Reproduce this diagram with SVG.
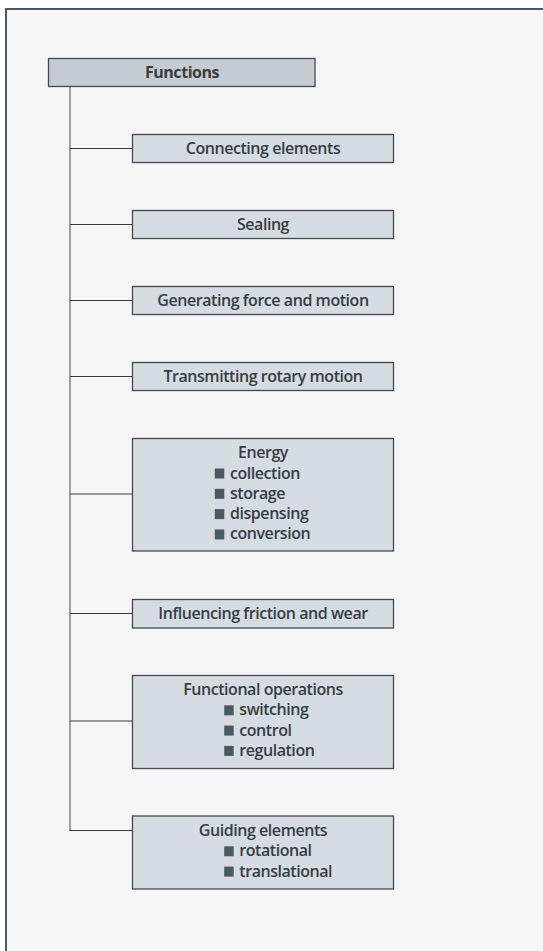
<svg xmlns="http://www.w3.org/2000/svg" width="543" height="951" viewBox="0 0 543 951">
  <style>
    .panel { fill: #f5f5f5; }
    .frame { stroke: #4a5a64; stroke-width: 2; fill: none; }
    .box { fill: #d4dbe1; stroke: #45494d; stroke-width: 1.3; }
    .root { fill: #c4cbd1; stroke: #45494d; stroke-width: 1.3; }
    .trunk { stroke: #8a8a8a; stroke-width: 1.6; fill: none; }
    .branch { stroke: #3a3a3a; stroke-width: 1; fill: none; }
    .label { font-family: "Open Sans", "Noto Sans", sans-serif; font-size: 16px; font-weight: 600; letter-spacing: -0.45px; fill: #363e44; }
    .mid { text-anchor: middle; }
    .bold { font-weight: 700; }
    .bullet { fill: #4a5a64; }
  </style>

  <!-- background panel with left and top rule -->
  <rect class="panel" x="5" y="8" width="538" height="943"/>
  <path class="frame" d="M6 951 V9 H543"/>

  <!-- tree connectors -->
  <g id="connectors">
    <path class="trunk" d="M70 86.5 V830.5"/>
    <path class="branch" d="M70 148.5 H132.5"/>
    <path class="branch" d="M70 224.5 H132.5"/>
    <path class="branch" d="M70 300.5 H132.5"/>
    <path class="branch" d="M70 376.5 H132.5"/>
    <path class="branch" d="M70 494 H132.5"/>
    <path class="branch" d="M70 613.5 H132.5"/>
    <path class="branch" d="M70 721 H132.5"/>
    <path class="branch" d="M69.2 830.5 H132.5"/>
  </g>

  <g id="functions">
    <rect class="root" x="48.5" y="58.5" width="266.5" height="28"/>
    <text class="label bold mid" x="182" y="78">Functions</text>
  </g>

  <g id="connecting-elements">
    <rect class="box" x="132.5" y="134.5" width="261" height="28"/>
    <text class="label mid" x="263" y="154">Connecting elements</text>
  </g>

  <g id="sealing">
    <rect class="box" x="132.5" y="210.5" width="261" height="28"/>
    <text class="label mid" x="263" y="230">Sealing</text>
  </g>

  <g id="generating-force">
    <rect class="box" x="132.5" y="286.5" width="261" height="28"/>
    <text class="label mid" x="263" y="306">Generating force and motion</text>
  </g>

  <g id="transmitting-rotary">
    <rect class="box" x="132.5" y="362.5" width="261" height="28"/>
    <text class="label mid" x="263" y="382">Transmitting rotary motion</text>
  </g>

  <g id="energy">
    <rect class="box" x="132.5" y="438.5" width="261" height="112.5"/>
    <text class="label mid" x="263" y="458">Energy</text>
    <rect class="bullet" x="214.8" y="468.5" width="9.5" height="10"/>
    <text class="label" x="230" y="478.5">collection</text>
    <rect class="bullet" x="214.8" y="488.8" width="9.5" height="10"/>
    <text class="label" x="230" y="498.8">storage</text>
    <rect class="bullet" x="214.8" y="509.1" width="9.5" height="10"/>
    <text class="label" x="230" y="519.1">dispensing</text>
    <rect class="bullet" x="214.8" y="529.4" width="9.5" height="10"/>
    <text class="label" x="230" y="539.4">conversion</text>
  </g>

  <g id="friction-wear">
    <rect class="box" x="132.5" y="599.5" width="261" height="28.5"/>
    <text class="label mid" x="263" y="619">Influencing friction and wear</text>
  </g>

  <g id="functional-operations">
    <rect class="box" x="132.5" y="675.5" width="261" height="93"/>
    <text class="label mid" x="263" y="695">Functional operations</text>
    <rect class="bullet" x="224.2" y="705.3" width="9.5" height="10"/>
    <text class="label" x="239.3" y="715.3">switching</text>
    <rect class="bullet" x="224.2" y="725.6" width="9.5" height="10"/>
    <text class="label" x="239.3" y="735.6">control</text>
    <rect class="bullet" x="224.2" y="745.9" width="9.5" height="10"/>
    <text class="label" x="239.3" y="755.9">regulation</text>
  </g>

  <g id="guiding-elements">
    <rect class="box" x="132.5" y="816" width="261" height="73"/>
    <text class="label mid" x="263" y="836">Guiding elements</text>
    <rect class="bullet" x="224.2" y="846.3" width="9.5" height="10"/>
    <text class="label" x="239.3" y="856.3">rotational</text>
    <rect class="bullet" x="224.2" y="866.6" width="9.5" height="10"/>
    <text class="label" x="239.3" y="876.6">translational</text>
  </g>
</svg>
